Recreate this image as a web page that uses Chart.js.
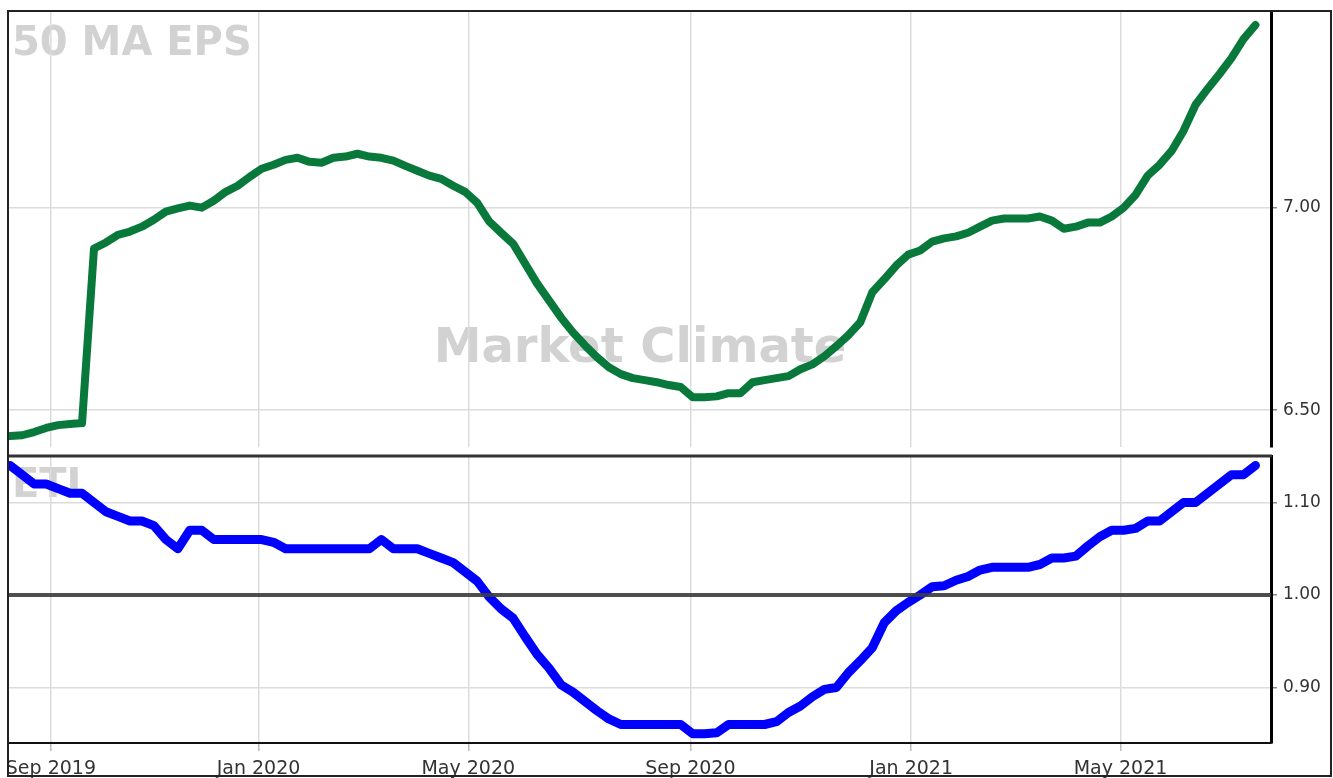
<!DOCTYPE html>
<html>
<head>
<meta charset="utf-8">
<script src="https://cdn.jsdelivr.net/npm/chart.js@4.4.1/dist/chart.umd.min.js"></script>
<style>
  html, body { margin: 0; padding: 0; background: #fff; }
  #wrap { position: relative; width: 1333px; height: 778px; overflow: hidden; }
  canvas { position: absolute; left: 0; }
  #frame { position: absolute; left: 7px; top: 10px; width: 1321px; height: 763px;
           border: 2px solid #222; pointer-events: none; }
</style>
</head>
<body>
<div id="wrap">
  <canvas id="epsChart" width="1333" height="450" style="top:0"></canvas>
  <canvas id="etiChart" width="1333" height="328" style="top:450px"></canvas>
  <div id="frame"></div>
</div>
<script>
// month ticks (position in weekly sample index) and their labels
const tickPos = [3.40, 20.74, 38.26, 56.81, 75.25, 92.73];
const tickLabels = ["Sep 2019", "Jan 2020", "May 2020", "Sep 2020", "Jan 2021", "May 2021"];

const epsTicks = [6.5, 7.0];
const etiTicks = [0.9, 1.0, 1.1];
const etiRef = 1.0;

// 50 MA EPS, weekly samples
const epsValues = [
  6.436, 6.438, 6.446, 6.456, 6.463, 6.466, 6.468, 6.899, 6.914, 6.933,
  6.941, 6.953, 6.970, 6.990, 6.998, 7.005, 7.000, 7.017, 7.039, 7.054,
  7.076, 7.096, 7.106, 7.118, 7.123, 7.113, 7.111, 7.123, 7.126, 7.133,
  7.126, 7.123, 7.116, 7.103, 7.091, 7.079, 7.071, 7.054, 7.039, 7.012,
  6.966, 6.938, 6.911, 6.862, 6.813, 6.771, 6.729, 6.692, 6.660, 6.631,
  6.606, 6.589, 6.579, 6.574, 6.569, 6.562, 6.557, 6.532, 6.532, 6.534,
  6.542, 6.542, 6.569, 6.574, 6.579, 6.584, 6.601, 6.613, 6.633, 6.658,
  6.685, 6.717, 6.791, 6.823, 6.857, 6.884, 6.894, 6.916, 6.924, 6.929,
  6.938, 6.953, 6.968, 6.973, 6.973, 6.973, 6.978, 6.968, 6.948, 6.953,
  6.963, 6.963, 6.978, 7.000, 7.032, 7.079, 7.106, 7.140, 7.190, 7.254,
  7.293, 7.330, 7.369, 7.416, 7.451
];

// ETI, weekly samples
const etiValues = [
  1.14, 1.13, 1.12, 1.12, 1.115, 1.11, 1.11, 1.10, 1.09, 1.085,
  1.08, 1.08, 1.075, 1.06, 1.05, 1.07, 1.07, 1.06, 1.06, 1.06,
  1.06, 1.06, 1.057, 1.05, 1.05, 1.05, 1.05, 1.05, 1.05, 1.05,
  1.05, 1.06, 1.05, 1.05, 1.05, 1.045, 1.04, 1.035, 1.025, 1.015,
  0.998, 0.985, 0.975, 0.955, 0.936, 0.921, 0.903, 0.895, 0.885, 0.875,
  0.866, 0.86, 0.86, 0.86, 0.86, 0.86, 0.86, 0.85, 0.85, 0.851,
  0.86, 0.86, 0.86, 0.86, 0.863, 0.873, 0.88, 0.89, 0.898, 0.90,
  0.916, 0.929, 0.943, 0.97, 0.983, 0.992, 1.00, 1.009, 1.01, 1.016,
  1.02, 1.027, 1.03, 1.03, 1.03, 1.03, 1.033, 1.04, 1.04, 1.042,
  1.053, 1.063, 1.07, 1.07, 1.072, 1.08, 1.08, 1.09, 1.10, 1.10,
  1.11, 1.12, 1.13, 1.13, 1.14
];

const xMin = -0.1, xMax = 105.3;
const FONT = "'DejaVu Sans', Verdana, sans-serif";
const gridColor = "#dcdcdc";

// draws the big grey watermark texts under the grid
function watermark(items) {
  return {
    id: "watermark",
    beforeDraw(chart) {
      const ctx = chart.ctx, a = chart.chartArea;
      ctx.save();
      ctx.fillStyle = "#d2d2d2";
      items.forEach(t => {
        ctx.font = "bold " + t.size + "px " + FONT;
        ctx.textAlign = t.align;
        ctx.textBaseline = "alphabetic";
        const x = t.align === "center" ? (a.left + a.right) / 2 + t.dx : a.left + t.dx;
        ctx.fillText(t.text, x, a.top + t.dy);
      });
      ctx.restore();
    }
  };
}

function xScale(showLabels) {
  return {
    type: "linear",
    min: xMin,
    max: xMax,
    afterBuildTicks: s => { s.ticks = tickPos.map(v => ({ value: v })); },
    afterFit: s => {
      s.paddingLeft = 0; s.paddingRight = 0;
      s.height = showLabels ? 35 : 0;
    },
    grid: {
      color: gridColor, lineWidth: 1.5,
      drawTicks: showLabels, tickLength: 8, tickColor: "#bbb"
    },
    border: { display: showLabels, color: "#111", width: 2 },
    ticks: {
      display: showLabels,
      maxRotation: 0,
      autoSkip: false,
      padding: 7,
      color: "#333",
      font: { family: FONT, size: 19 },
      callback: (v, i) => tickLabels[i]
    }
  };
}

function yScale(min, max, tickVals) {
  return {
    position: "right",
    min: min,
    max: max,
    afterBuildTicks: s => { s.ticks = tickVals.map(v => ({ value: v })); },
    afterFit: s => { s.width = 62; s.paddingTop = 0; s.paddingBottom = 0; },
    grid: { color: gridColor, lineWidth: 1.5, tickLength: 6, tickColor: "#888" },
    border: { color: "#000", width: 3 },
    ticks: {
      padding: 6,
      color: "#333",
      font: { family: FONT, size: 17 },
      callback: v => Number(v).toFixed(2)
    }
  };
}

const common = {
  responsive: false,
  devicePixelRatio: 1,
  animation: false,
  plugins: { legend: { display: false }, tooltip: { enabled: false } },
  elements: { point: { radius: 0 } }
};

new Chart(document.getElementById("epsChart"), {
  type: "line",
  data: {
    labels: epsValues.map((_, i) => i),
    datasets: [{
      data: epsValues,
      borderColor: "#08793a",
      borderWidth: 8,
      borderJoinStyle: "round",
      borderCapStyle: "round",
      tension: 0
    }]
  },
  options: {
    ...common,
    layout: { padding: { left: 9, top: 12, right: 0, bottom: 3 } },
    scales: {
      x: xScale(false),
      y: yScale(6.409, 7.483, epsTicks)
    }
  },
  plugins: [watermark([
    { text: "50 MA EPS", size: 40, align: "left", dx: 3, dy: 43 },
    { text: "Market Climate", size: 48, align: "center", dx: 0, dy: 350 }
  ])]
});

new Chart(document.getElementById("etiChart"), {
  type: "line",
  data: {
    labels: etiValues.map((_, i) => i),
    datasets: [{
      data: etiValues,
      borderColor: "#0000ff",
      borderWidth: 9,
      borderJoinStyle: "round",
      borderCapStyle: "round",
      tension: 0
    }]
  },
  options: {
    ...common,
    layout: { padding: { left: 9, top: 6, right: 0, bottom: 0 } },
    scales: {
      x: xScale(true),
      y: yScale(0.84, 1.1503, etiTicks)
    }
  },
  plugins: [
    watermark([{ text: "ETI", size: 40, align: "left", dx: 3, dy: 41 }]),
    {
      id: "refLine",
      afterDatasetsDraw(chart) {
        const ctx = chart.ctx, a = chart.chartArea;
        const y = chart.scales.y.getPixelForValue(etiRef);
        ctx.save();
        ctx.strokeStyle = "rgba(60,60,60,0.9)";
        ctx.lineWidth = 4;
        ctx.beginPath();
        ctx.moveTo(a.left, y);
        ctx.lineTo(a.right, y);
        ctx.stroke();
        // top edge of the lower panel
        ctx.strokeStyle = "#333";
        ctx.lineWidth = 3;
        ctx.beginPath();
        ctx.moveTo(a.left, a.top);
        ctx.lineTo(a.right + 1, a.top);
        ctx.stroke();
        ctx.restore();
      }
    }
  ]
});
</script>
</body>
</html>
